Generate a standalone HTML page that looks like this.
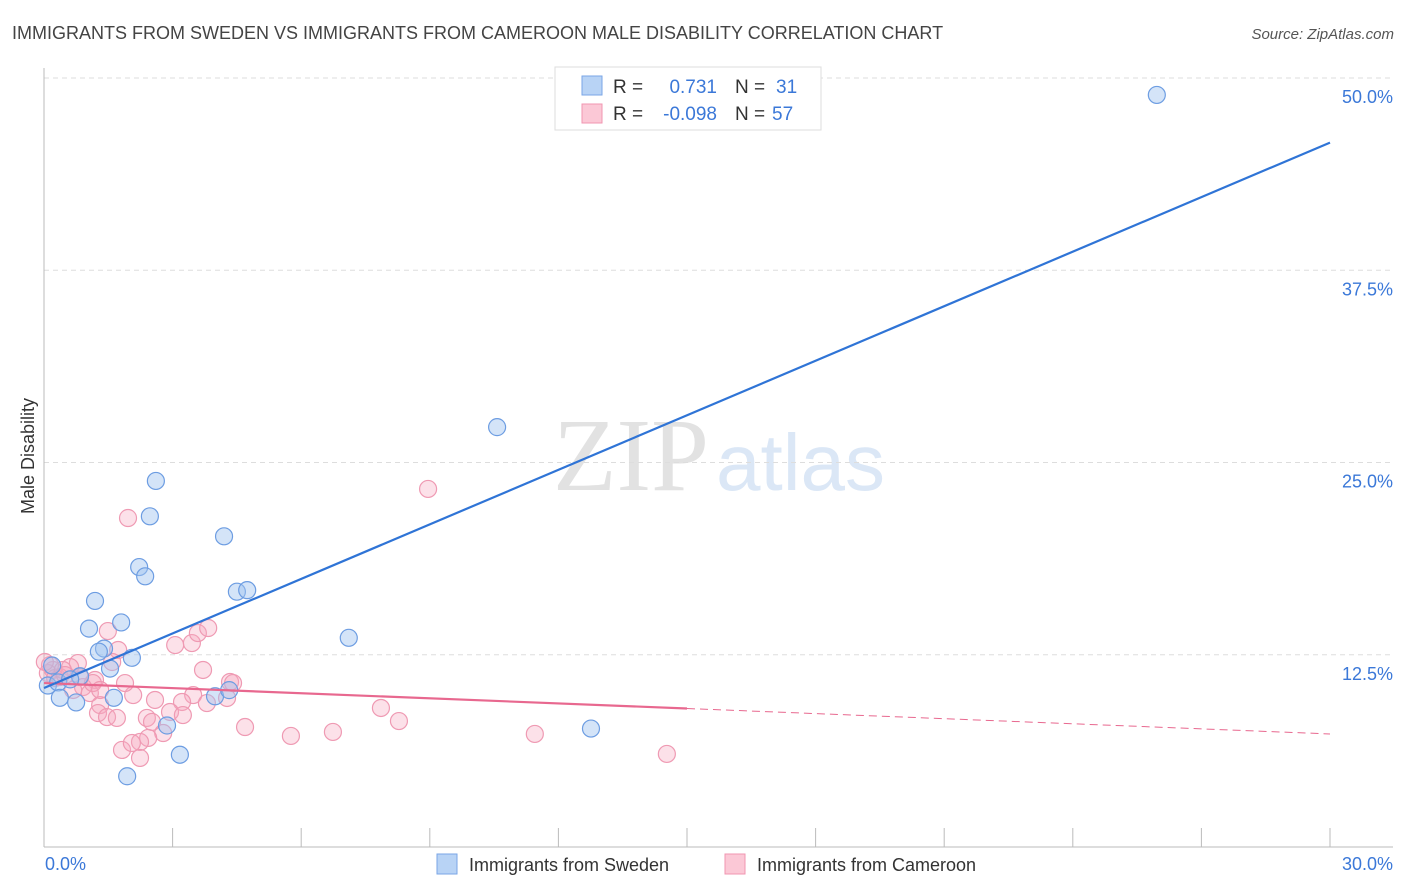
<!DOCTYPE html>
<html><head><meta charset="utf-8"><style>
body{margin:0;background:#fff;}
svg{display:block;font-family:"Liberation Sans",sans-serif;}
</style></head><body>
<svg id="chart" width="1406" height="892" viewBox="0 0 1406 892" xmlns="http://www.w3.org/2000/svg">
<text x="12" y="39" font-size="18" fill="#444">IMMIGRANTS FROM SWEDEN VS IMMIGRANTS FROM CAMEROON MALE DISABILITY CORRELATION CHART</text>
<text x="1394" y="39" font-size="15" fill="#555" font-style="italic" text-anchor="end">Source: ZipAtlas.com</text>
<text x="34" y="456" font-size="18" fill="#333" text-anchor="middle" transform="rotate(-90 34 456)">Male Disability</text>
<g>
<text x="553" y="490" font-size="104" fill="#e2e2e2" font-family="Liberation Serif, serif">ZIP</text>
<text x="716" y="490" font-size="80" fill="#dbe7f6">atlas</text>
</g>
<g id="grid"></g>
<g id="axes"></g>
<g id="pinkpts"></g>
<g id="bluepts"></g>
<g id="lines"></g>
<g>
<rect x="555" y="67" width="266" height="63" fill="#fff" stroke="#ddd"/>
<rect x="582" y="76" width="20" height="19" fill="#b8d3f5" stroke="#7aa6e6"/>
<rect x="582" y="104" width="20" height="19" fill="#fbc8d6" stroke="#f096b0"/>
<text x="613" y="93" font-size="19" fill="#333">R =</text>
<text x="717" y="93" font-size="19" fill="#3b78d8" text-anchor="end">0.731</text>
<text x="735" y="93" font-size="19" fill="#333">N =</text>
<text x="776" y="93" font-size="19" fill="#3b78d8">31</text>
<text x="613" y="120" font-size="19" fill="#333">R =</text>
<text x="717" y="120" font-size="19" fill="#3b78d8" text-anchor="end">-0.098</text>
<text x="735" y="120" font-size="19" fill="#333">N =</text>
<text x="772" y="120" font-size="19" fill="#3b78d8">57</text>
</g>
<g>
<rect x="437" y="854" width="20" height="20" fill="#b8d3f5" stroke="#7aa6e6"/>
<text x="469" y="871" font-size="18" fill="#333">Immigrants from Sweden</text>
<rect x="725" y="854" width="20" height="20" fill="#fbc8d6" stroke="#f096b0"/>
<text x="757" y="871" font-size="18" fill="#333">Immigrants from Cameroon</text>
</g>
</svg>
<script>
const yTicks=[12.5,25,37.5,50];
const yTickLabels=["12.5%","25.0%","37.5%","50.0%"];
const xTickVals=[0,3,6,9,12,15,18,21,24,27,30];
const xEndLabels=["0.0%","30.0%"];
const swedenX=[25.96,10.57,2.61,2.47,4.20,2.22,2.36,4.50,4.74,1.19,1.80,1.05,7.11,1.40,1.28,2.05,1.54,0.84,0.19,0.09,0.33,0.61,0.37,0.75,1.63,3.99,4.32,2.87,12.76,3.17,1.94];
const swedenY=[48.9,27.3,23.8,21.5,20.2,18.2,17.6,16.6,16.7,16.0,14.6,14.2,13.6,12.9,12.7,12.3,11.6,11.1,11.8,10.5,10.7,10.9,9.7,9.4,9.7,9.8,10.2,7.9,7.7,6.0,4.6];
const cameroonX=[1.49,1.73,1.59,3.06,3.45,3.59,3.83,3.71,4.34,4.41,4.27,3.48,3.22,3.80,2.59,2.08,1.89,1.19,0.79,0.61,0.21,0.37,0.91,0.68,1.07,1.31,1.26,1.47,1.70,1.14,2.40,2.52,2.94,3.24,2.78,2.43,2.24,1.82,2.05,2.24,4.69,0.09,0.26,0.14,0.44,0.84,1.96,8.96,5.76,6.74,7.86,8.28,11.45,14.53,0.02,0.49,1.31];
const cameroonY=[14.04,12.81,12.03,13.13,13.26,13.91,14.24,11.51,10.73,10.66,9.69,9.88,9.43,9.36,9.56,9.88,10.66,10.86,11.96,11.70,11.51,11.05,10.40,10.21,10.01,9.23,8.71,8.45,8.39,10.66,8.39,8.13,8.78,8.58,7.41,7.09,6.83,6.31,6.76,5.79,7.80,11.31,10.99,11.83,11.51,11.05,21.39,23.28,7.22,7.48,9.04,8.19,7.35,6.05,12.03,11.18,10.21];
const swedenTrend=[10.34,45.8];   // y at x=0 and x=30
const cameroonTrend=[10.66,7.35]; // y at x=0 and x=30
const cameroonSolidEnd=15;

const NS="http://www.w3.org/2000/svg";
const X0=44,X1=1330,Y0=847,Y50=78;
const sx=v=>X0+(X1-X0)*v/30;
const sy=v=>Y0-(Y0-Y50)*v/50;
function mk(tag,attrs,parent){const e=document.createElementNS(NS,tag);for(const k in attrs)e.setAttribute(k,attrs[k]);parent.appendChild(e);return e;}
const grid=document.getElementById('grid'),axes=document.getElementById('axes');
yTicks.forEach((t,i)=>{
  const l=mk('line',{x1:X0,x2:1393,y1:sy(t),y2:sy(t),stroke:'#ddd','stroke-dasharray':'5,4'},grid);
  
  
  const tx=mk('text',{x:1393,y:sy(t)+25,'font-size':18,fill:'#3b78d8','text-anchor':'end'},axes);
  tx.textContent=yTickLabels[i];
  
  
});
const xa=mk('line',{x1:X0,x2:1393,y1:Y0,y2:Y0,stroke:'#bbb'},axes);


const ya=mk('line',{x1:X0,x2:X0,y1:68,y2:Y0,stroke:'#bbb'},axes);


xTickVals.forEach(v=>{
  const t=mk('line',{x1:sx(v),x2:sx(v),y1:828,y2:Y0,stroke:'#bbb'},axes);
  
  
});
const xl0=mk('text',{x:45,y:870,'font-size':18,fill:'#3b78d8'},axes);
xl0.textContent=xEndLabels[0];


const xl1=mk('text',{x:1393,y:870,'font-size':18,fill:'#3b78d8','text-anchor':'end'},axes);
xl1.textContent=xEndLabels[1];



const pp=document.getElementById('pinkpts');
cameroonX.forEach((x,i)=>{
  const c=mk('circle',{cx:sx(x),cy:sy(cameroonY[i]),r:8.5,fill:'rgba(246,168,192,0.35)',stroke:'#ef9ab3','stroke-width':1.2},pp);
  
  
});
const bp=document.getElementById('bluepts');
swedenX.forEach((x,i)=>{
  const c=mk('circle',{cx:sx(x),cy:sy(swedenY[i]),r:8.5,fill:'rgba(160,196,240,0.45)',stroke:'#6d9de2','stroke-width':1.2},bp);
  
  
});
const lg=document.getElementById('lines');
const ctY=x=>cameroonTrend[0]+(cameroonTrend[1]-cameroonTrend[0])*x/30;
const pl1=mk('line',{x1:sx(0),y1:sy(ctY(0)),x2:sx(cameroonSolidEnd),y2:sy(ctY(cameroonSolidEnd)),stroke:'#e8688f','stroke-width':2.2},lg);


const pl2=mk('line',{x1:sx(cameroonSolidEnd),y1:sy(ctY(cameroonSolidEnd)),x2:sx(30),y2:sy(ctY(30)),stroke:'#e8688f','stroke-width':1,'stroke-dasharray':'8,5'},lg);


const bl=mk('line',{x1:sx(0),y1:sy(swedenTrend[0]),x2:sx(30),y2:sy(swedenTrend[1]),stroke:'#2f74d6','stroke-width':2.2},lg);


</script>
</body></html>
